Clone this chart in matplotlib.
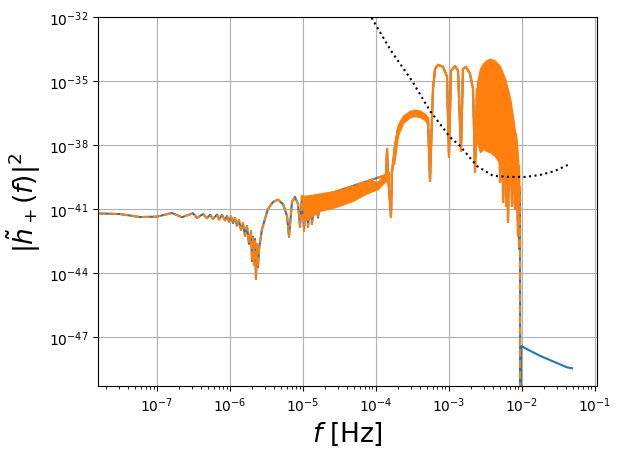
import numpy as np
import matplotlib
matplotlib.use("Agg")
import matplotlib.pyplot as plt
from matplotlib.ticker import NullLocator

# values, stored as log10(f) and log10(|h|^2)
main_logf = [-7.809, -7.507, -7.233, -7.000, -6.794, -6.657, -6.506, -6.451,
             -6.369, -6.314, -6.273, -6.232, -6.177, -6.150, -6.109, -6.067,
             -6.040, -6.013, -5.985, -5.958, -5.930, -5.903, -5.876, -5.848,
             -5.821, -5.793, -5.766, -5.738, -5.711, -5.697, -5.684, -5.670,
             -5.656, -5.643, -5.629, -5.615, -5.601, -5.560, -5.478, -5.409,
             -5.341, -5.272, -5.217, -5.190, -5.149, -5.108, -5.067, -5.039,
             -5.012, -4.984, -4.957, -4.929, -4.902, -4.875, -4.834, -4.793,
             -4.738, -3.860, -3.846, -3.833, -3.792, -3.778, -3.737, -3.696,
             -3.627, -3.531, -3.463, -3.394, -3.325, -3.284, -3.257, -3.229,
             -3.216, -3.188, -3.147, -3.079, -3.024, -2.997, -2.969, -2.914,
             -2.873, -2.832, -2.805, -2.764, -2.709, -2.667, -2.640, -2.613,
             -2.544, -2.462, -2.380, -2.311, -2.297, -2.270, -2.256, -2.229,
             -2.215, -2.201, -2.188, -2.160, -2.133, -2.119, -2.092, -2.078,
             -2.050, -2.037, -2.030, -2.023, -2.020]
main_logh = [-41.21, -41.24, -41.38, -41.36, -41.19, -41.39, -41.20, -41.42,
             -41.24, -41.44, -41.27, -41.47, -41.26, -41.50, -41.28, -41.54,
             -41.32, -41.60, -41.35, -41.66, -41.42, -41.79, -41.52, -41.99,
             -41.66, -42.27, -41.80, -42.64, -42.03, -43.44, -42.31, -43.63,
             -42.41, -44.28, -42.64, -43.72, -42.88, -41.94, -41.00, -40.67,
             -40.57, -40.77, -41.33, -42.31, -40.67, -40.44, -40.77, -41.85,
             -40.39, -42.03, -40.45, -41.85, -40.50, -41.70, -40.40, -41.40,
             -40.40, -39.41, -38.19, -39.40, -41.38, -39.27, -38.05, -37.25,
             -36.78, -36.50, -36.44, -36.50, -36.64, -36.88, -39.69, -36.69,
             -35.38, -34.44, -34.25, -34.34, -34.81, -38.56, -34.53, -34.30,
             -34.53, -38.28, -34.44, -34.34, -34.67, -35.38, -39.27, -35.38,
             -38.20, -34.10, -38.40, -34.30, -39.74, -35.00, -40.67, -35.30,
             -40.86, -35.50, -41.61, -36.00, -40.86, -36.80, -41.00, -37.50,
             -42.27, -39.00, -42.88, -40.00, -55.00]

# extra high-frequency tail only present in the blue curve
tail_logf = [-2.009, -1.886, -1.749, -1.612, -1.516, -1.379, -1.310]
tail_logh = [-47.42, -47.64, -47.88, -48.08, -48.22, -48.42, -48.46]

# densely oscillating regions, read as upper / lower envelopes
band1_logf = [-5.012, -4.971, -4.875, -4.793, -4.559, -4.326, -4.148, -4.052,
              -3.970, -3.901, -3.860, -3.819]
band1_hi = [-40.39, -40.39, -40.35, -40.30, -40.16, -39.97, -39.74, -39.69,
            -39.74, -39.41, -39.36, -39.27]
band1_lo = [-40.53, -41.56, -41.33, -41.10, -40.91, -40.63, -40.30, -40.16,
            -40.06, -39.79, -39.69, -39.59]

band2_logf = [-3.750, -3.696, -3.627, -3.531, -3.463, -3.394, -3.325, -3.284]
band2_hi = [-38.19, -37.06, -36.64, -36.41, -36.36, -36.41, -36.55, -36.74]
band2_lo = [-38.89, -37.53, -36.97, -36.69, -36.64, -36.69, -36.83, -37.06]

band3_logf = [-2.613, -2.571, -2.530, -2.475, -2.434, -2.366, -2.297, -2.229,
              -2.160, -2.119, -2.064, -2.037]
band3_hi = [-35.14, -34.44, -34.20, -34.02, -33.97, -34.06, -34.34, -34.91,
            -35.84, -36.78, -38.05, -39.45]
band3_lo = [-37.86, -38.33, -38.19, -38.28, -38.33, -38.52, -38.89, -39.50,
            -39.83, -40.06, -40.30, -40.53]

# detector noise curve (dotted)
noise_logf = [-4.134, -4.066, -3.792, -3.504, -3.257, -2.983, -2.846, -2.613,
              -2.393, -2.160, -1.955, -1.749, -1.544, -1.338]
noise_logh = [-31.60, -32.00, -33.59, -35.00, -36.41, -37.63, -38.05, -38.99,
              -39.45, -39.50, -39.50, -39.41, -39.22, -38.89]

ytick_exp = [-47, -44, -41, -38, -35, -32]


def p10(a):
    return 10.0 ** np.asarray(a)


fig, ax = plt.subplots(figsize=(6.2, 4.56), dpi=100)
fig.subplots_adjust(left=0.158, right=0.963, bottom=0.151, top=0.961)

blue_f = p10(main_logf + tail_logf)
blue_h = p10(main_logh + tail_logh)
ax.loglog(blue_f, blue_h, color='C0', lw=1.5)
ax.loglog(p10(main_logf), p10(main_logh), color='C1', lw=1.5, ls='--')

# the dense high-frequency part hides the blue curve almost fully
mf = np.array(main_logf)
mh = np.array(main_logh)
dense = (mf > -3.9) & (mf < -2.03)
ax.loglog(p10(mf[dense]), p10(mh[dense]), color='C1', lw=1.5)

for bf, lo, hi in [(band1_logf, band1_lo, band1_hi),
                   (band2_logf, band2_lo, band2_hi),
                   (band3_logf, band3_lo, band3_hi)]:
    ax.fill_between(p10(bf), p10(lo), p10(hi), color='C1', lw=1.2,
                    edgecolor='C1', zorder=2.5)

ax.loglog(p10(noise_logf), p10(noise_logh), color='k', ls=':', lw=1.5,
          zorder=3)

ax.set_xlim(10 ** -7.809, 10 ** -0.967)
ax.set_ylim(10 ** -49.3, 1e-32)
ax.set_yticks(p10(ytick_exp))
ax.yaxis.set_minor_locator(NullLocator())
ax.grid(True)
ax.set_xlabel(r'$f$ [Hz]', fontsize=19)
ax.set_ylabel(r'$|\tilde{h}_+(f)|^2$', fontsize=19)

plt.savefig("out.png", dpi=100)
